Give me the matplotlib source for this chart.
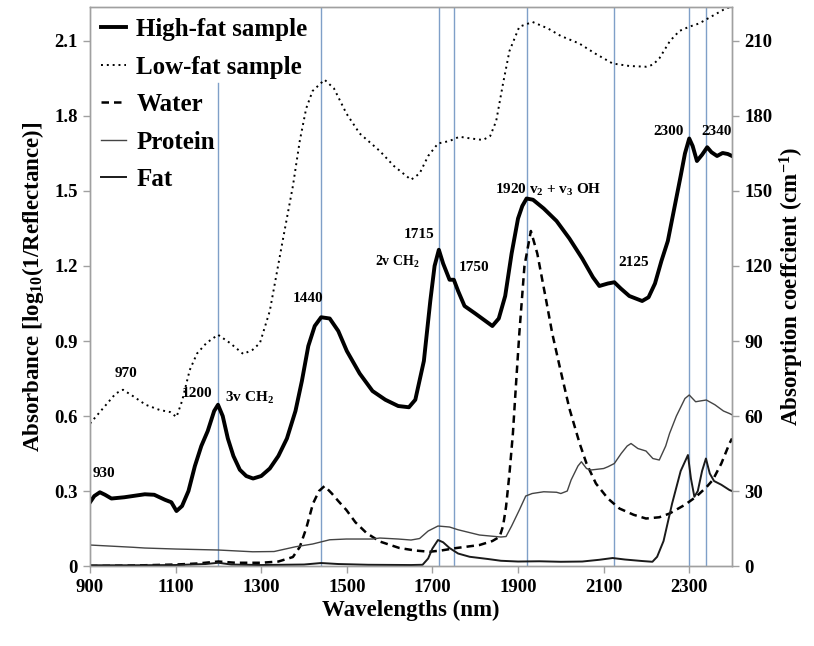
import matplotlib
matplotlib.use("Agg")
import matplotlib.pyplot as plt
import numpy as np

plt.rcParams['font.family'] = ['Liberation Serif', 'DejaVu Serif']
plt.rcParams['font.weight'] = 'bold'
plt.rcParams['mathtext.fontset'] = 'custom'
plt.rcParams['mathtext.rm'] = 'Liberation Serif:bold'
plt.rcParams['mathtext.bf'] = 'Liberation Serif:bold'
plt.rcParams['mathtext.it'] = 'Liberation Serif:bold:italic'

# --- spectra (left axis, absorbance) ---
hf_wl = [900, 910, 923, 935, 950, 980, 1000, 1028, 1050, 1075, 1090, 1102, 1115, 1130,
         1145, 1160, 1175, 1190, 1199, 1210, 1222, 1235, 1250, 1265, 1281, 1300, 1320,
         1340, 1360, 1380, 1395, 1410, 1425, 1440, 1460, 1480, 1500, 1530, 1560, 1590,
         1620, 1645, 1660, 1680, 1695, 1705, 1715, 1725, 1740, 1750, 1760, 1775, 1800,
         1820, 1840, 1855, 1870, 1885, 1900, 1910, 1920, 1935, 1960, 1990, 2020, 2050,
         2075, 2090, 2110, 2125, 2140, 2160, 2190, 2205, 2220, 2235, 2250, 2265, 2280,
         2290, 2300, 2308, 2318, 2330, 2342, 2352, 2365, 2378, 2390, 2400]
hf_val = [0.255, 0.28, 0.295, 0.285, 0.27, 0.275, 0.28, 0.287, 0.285, 0.265, 0.255, 0.22,
          0.24, 0.30, 0.40, 0.48, 0.54, 0.62, 0.645, 0.60, 0.51, 0.44, 0.385, 0.36, 0.35,
          0.36, 0.39, 0.44, 0.51, 0.62, 0.74, 0.88, 0.96, 0.995, 0.99, 0.94, 0.86, 0.77,
          0.70, 0.665, 0.64, 0.635, 0.665, 0.82, 1.06, 1.20, 1.265, 1.21, 1.145, 1.145,
          1.10, 1.04, 1.01, 0.985, 0.96, 0.99, 1.08, 1.25, 1.39, 1.44, 1.47, 1.465, 1.43,
          1.38, 1.31, 1.23, 1.155, 1.12, 1.13, 1.135, 1.11, 1.08, 1.06, 1.075, 1.13, 1.22,
          1.30, 1.43, 1.56, 1.65, 1.71, 1.68, 1.62, 1.645, 1.675, 1.655, 1.64, 1.652,
          1.648, 1.64]

lf_wl = [900, 920, 940, 960, 977, 1000, 1030, 1063, 1087, 1102, 1115, 1133, 1150, 1172,
         1199, 1227, 1258, 1280, 1297, 1320, 1350, 1374, 1390, 1405, 1420, 1448,
         1470, 1499, 1530, 1577, 1610, 1650, 1670, 1690, 1713, 1740, 1763, 1790, 1818,
         1835, 1849, 1865, 1880, 1903, 1934, 1970, 2000, 2043, 2080, 2121, 2160, 2199,
         2215, 2230, 2255, 2277, 2300, 2323, 2354, 2380, 2400]
lf_val = [0.57, 0.61, 0.65, 0.69, 0.705, 0.68, 0.645, 0.624, 0.616, 0.596, 0.66, 0.784,
          0.85, 0.892, 0.925, 0.892, 0.848, 0.865, 0.892, 1.02, 1.30, 1.52, 1.70,
          1.83, 1.90, 1.945, 1.91, 1.81, 1.73, 1.66, 1.60, 1.545, 1.57, 1.64, 1.69, 1.70,
          1.717, 1.71, 1.704, 1.72, 1.78, 1.93, 2.06, 2.157, 2.176, 2.15, 2.12, 2.09,
          2.05, 2.01, 2.0, 1.997, 2.005, 2.03, 2.10, 2.14, 2.157, 2.17, 2.2, 2.225, 2.24]

# --- absorption coefficients (right axis, cm-1) ---
w_wl = [900, 1000, 1100, 1150, 1200, 1240, 1300, 1340, 1374, 1390, 1405, 1421, 1435,
        1448, 1465, 1480, 1499, 1520, 1546, 1577, 1623, 1660, 1693, 1720, 1756, 1810,
        1840, 1857, 1865, 1872, 1880, 1888, 1895, 1903, 1915, 1930, 1945, 1966, 1980,
        1997, 2020, 2044, 2060, 2082, 2110, 2137, 2170, 2199, 2230, 2254, 2290, 2316,
        2340, 2355, 2375, 2394, 2400]
w_val = [0, 0.2, 0.6, 1.0, 1.8, 1.3, 1.3, 1.8, 3.6, 7.6, 15, 25, 30, 32, 29, 26, 22.4,
         17.5, 13.2, 9.8, 7.2, 6.2, 5.7, 6.2, 7.2, 8.4, 10, 11.7, 16, 23.7, 37, 53, 72,
         93, 120, 134, 125, 106, 93, 80, 63, 49, 41, 33, 27, 23, 20.5, 19, 19.5, 21,
         24.5, 27.7, 31.5, 34.4, 41, 49, 51]

p_wl = [900, 1000, 1028, 1100, 1200, 1280, 1330, 1380, 1420, 1460, 1499, 1560, 1577,
        1620, 1650, 1670, 1690, 1713, 1740, 1760, 1810, 1860, 1872, 1885, 1903, 1918,
        1933, 1960, 1990, 2000, 2015, 2024, 2040, 2048, 2060, 2070, 2100, 2110, 2125,
        2141, 2155, 2164, 2180, 2199, 2215, 2230, 2245, 2254, 2270, 2290, 2300, 2315,
        2325, 2340, 2360, 2380, 2394, 2400]
p_val = [8.4, 7.5, 7.2, 6.8, 6.4, 5.7, 5.8, 7.7, 8.8, 10.5, 10.8, 10.8, 11.2, 10.8, 10.4,
         11, 14, 16, 15.6, 14.5, 12.4, 11.6, 11.8, 16, 22.4, 28, 29, 29.7, 29.5, 29, 30,
         34.4, 40, 41.7, 39, 38.4, 39, 39.7, 41, 45, 48, 49, 47, 46, 43, 42.4, 48, 53,
         60, 67, 68.4, 65.7, 66, 66.4, 64.5, 62, 61, 60.5]

f_wl = [900, 1000, 1100, 1170, 1200, 1230, 1300, 1400, 1440, 1480, 1550, 1650, 1677,
        1690, 1700, 1713, 1725, 1740, 1760, 1787, 1830, 1860, 1900, 1950, 2000, 2050,
        2090, 2121, 2150, 2190, 2214, 2225, 2240, 2260, 2280, 2297, 2304, 2312, 2320,
        2330, 2339, 2348, 2358, 2375, 2394, 2400]
f_val = [0.3, 0.3, 0.4, 0.8, 1.3, 0.6, 0.4, 0.6, 1.2, 0.8, 0.5, 0.4, 0.5, 3, 7, 10.4,
         9.5, 7.2, 5, 3.7, 2.8, 2.1, 1.8, 1.9, 1.7, 1.8, 2.5, 3.2, 2.6, 2.0, 1.7, 3.7, 10,
         25, 38, 44.4, 35, 27.7, 30, 38, 43, 37, 34, 32.5, 30.4, 30]

band_wl = [1200, 1440, 1715, 1750, 1920, 2125, 2300, 2340]
band_top = [0.864, 1, 1, 1, 1, 1, 1, 1]

notes = [("930", 905, 0.372, 'left', 11), ("970", 984, 0.772, 'center', 11),
         ("1200", 1150, 0.692, 'center', 11), ("3v CH$_2$", 1273, 0.672, 'center', 11),
         ("1440", 1409, 1.072, 'center', 11), ("1715", 1670, 1.324, 'center', 11),
         ("2v CH$_2$", 1617, 1.216, 'center', 10), ("1750", 1798, 1.192, 'center', 11),
         ("1920 v$_2$ + v$_3$ OH", 1971, 1.504, 'center', 11),
         ("2125", 2170, 1.212, 'center', 11), ("2300", 2252, 1.736, 'center', 11),
         ("2340", 2363, 1.736, 'center', 11)]

fig = plt.figure(figsize=(8.14, 6.46), dpi=100)
ax = fig.add_axes([0.1106, 0.1238, 0.7887, 0.8654])
ax2 = ax.twinx()

for wl, top in zip(band_wl, band_top):
    ax.axvline(wl, ymin=0, ymax=top, color='#7f9fc8', lw=1.0, zorder=1)

l1, = ax.plot(hf_wl, hf_val, color='black', lw=2.8, label='High-fat sample', zorder=3)
l2, = ax.plot(lf_wl, lf_val, color='black', lw=1.4, ls=(0, (1, 2)), label='Low-fat sample', zorder=3)
l3, = ax2.plot(w_wl, w_val, color='black', lw=1.8, ls=(0, (3, 2)), label='Water')
l4, = ax2.plot(p_wl, p_val, color='#444444', lw=1.0, label='Protein')
l5, = ax2.plot(f_wl, f_val, color='#1a1a1a', lw=1.4, label='Fat')

for txt, x, y, ha, fs in notes:
    ax.text(x, y, txt, ha=ha, va='center', fontsize=fs, fontweight='bold')

ax.set_xlim(900, 2400)
ax.set_ylim(0, 2.236)
ax2.set_ylim(0, 223.6)
ax.set_xticks(np.arange(900, 2400, 200))
ax.set_yticks(np.arange(0, 2.2, 0.3))
ax.set_yticklabels(['0', '0.3', '0.6', '0.9', '1.2', '1.5', '1.8', '2.1'])
ax2.set_yticks(np.arange(0, 220, 30))

for a in (ax, ax2):
    for s in a.spines.values():
        s.set_color('#a0a0a0')
        s.set_linewidth(1.0)
    a.tick_params(color='#a0a0a0', length=5, width=1, labelsize=13.5, pad=4)
for lab in ax.get_xticklabels() + ax.get_yticklabels() + ax2.get_yticklabels():
    lab.set_fontweight('bold')

ax.set_xlabel('Wavelengths (nm)', fontsize=16.5, fontweight='bold', labelpad=3)
ax.set_ylabel('Absorbance [log$_{10}$(1/Reflectance)]', fontsize=16.5, fontweight='bold', labelpad=6)
ax2.set_ylabel('Absorption coeffcient (cm$^{-1}$)', fontsize=16.5, fontweight='bold', labelpad=4)

leg = ax2.legend(handles=[l1, l2, l3, l4, l5], loc='upper left', frameon=False,
                 fontsize=18, handlelength=1.0, handletextpad=0.4, labelspacing=0.58,
                 borderaxespad=0.2, borderpad=0.25)
for t in leg.get_texts():
    t.set_fontweight('bold')

fig.savefig('out.png', dpi=100)
